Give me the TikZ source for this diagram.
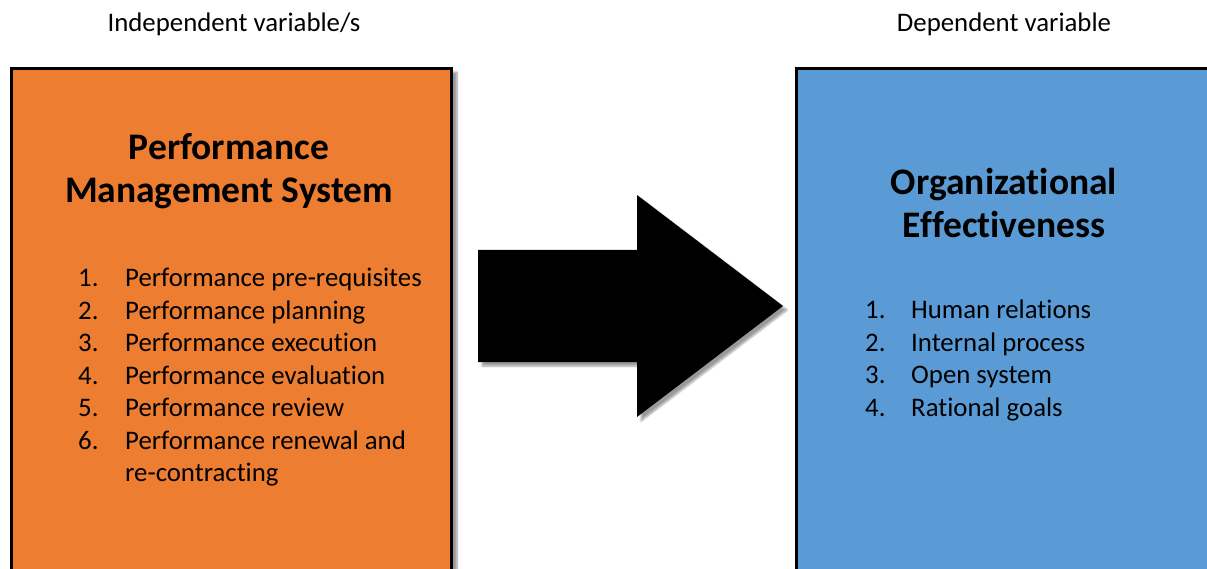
\documentclass[tikz,border=0pt]{standalone}
\usepackage{fontspec}
\setmainfont[Ligatures=NoCommon]{Carlito}
\usetikzlibrary{positioning,shadows.blur}
\definecolor{pmsorange}{HTML}{ED7D31}
\definecolor{oeblue}{HTML}{5B9BD5}

\begin{document}
\begin{tikzpicture}[x=1pt,y=1pt,
    varbox/.style={draw=black, line width=3pt, minimum width=440pt, minimum height=560pt,
      anchor=north west, inner sep=0pt,
      blur shadow={shadow xshift=6pt, shadow yshift=-3pt, shadow blur steps=8}},
    heading/.style={font=\bfseries\fontsize{37.5}{43}\selectfont, align=center},
    listing/.style={font=\fontsize{26.8}{32.5}\selectfont, inner sep=0pt, anchor=north west},
    caption/.style={font=\fontsize{26.8}{32}\selectfont}]
    \useasboundingbox (0,0) rectangle (1207,-569);
    \clip (0,0) rectangle (1207,-569);
    % the two variables
    \node[varbox, fill=pmsorange] (pms) at (9.5,-67.5) {};
    \node[varbox, fill=oeblue] (oe) at (794.5,-67.5) {};
    \node[caption] (indep) at (234,-24) {Independent variable/s};
    \node[caption] (dep) at (1004,-24) {Dependent variable};
    \node[heading] (pmstitle) at (229,-171) {Performance\\Management System};
    \node[heading] (oetitle) at (1004,-203) {Organizational\\Effectiveness};
    \node[listing] (pmslist) at (78,-264) {%
      \begin{tabular}{@{}p{47pt}@{}l@{}}
        1. & Performance pre-requisites\\
        2. & Performance planning\\
        3. & Performance execution\\
        4. & Performance evaluation\\
        5. & Performance review\\
        6. & Performance renewal and\\
           & re-contracting
      \end{tabular}};
    \node[listing] (oelist) at (865,-296) {%
      \begin{tabular}{@{}p{46pt}@{}l@{}}
        1. & Human relations\\
        2. & Internal process\\
        3. & Open system\\
        4. & Rational goals
      \end{tabular}};
    % big arrow between them
    \fill[black, blur shadow={shadow xshift=4pt, shadow yshift=-4pt, shadow blur steps=8}]
      (478,-250) -- (637,-250) -- (637,-195) -- (783,-306) -- (637,-417) -- (637,-362)
      -- (478,-362) -- cycle;
\end{tikzpicture}
\end{document}
